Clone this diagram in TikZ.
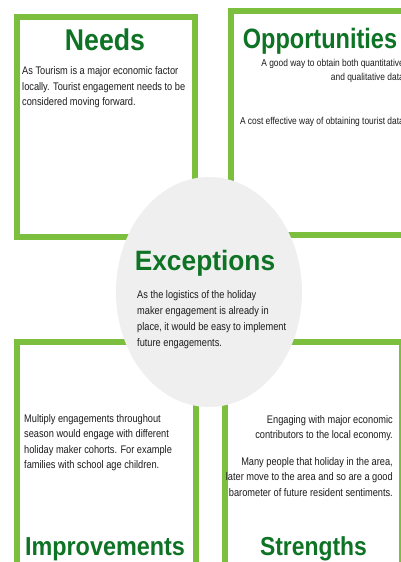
\documentclass[tikz,border=0pt]{standalone}
\usepackage{fontspec}
\usepackage{graphicx}
\setmainfont{Liberation Sans}
\newfontfamily\bodyf[FakeStretch=0.84]{Liberation Sans}
\definecolor{framegreen}{HTML}{7CBF3F}
\definecolor{titlegreen}{HTML}{0E7325}
\definecolor{circlegray}{HTML}{EFEFEF}
\definecolor{bodytext}{HTML}{1C1C1C}
\newcommand\blockL[2]{\vtop{\baselineskip=#1\halign{##\hfil\cr #2\crcr}}}
\newcommand\blockR[2]{\vtop{\baselineskip=#1\halign{\hfil##\cr #2\crcr}}}
\tikzset{
  frame/.style={draw=framegreen, line width=6pt},
  ttl/.style={inner sep=0pt, anchor=base, text=titlegreen},
  bodyL/.style={inner sep=0pt, anchor=base west, text=bodytext, font=\bodyf\fontsize{11}{13}\selectfont},
  bodyR/.style={inner sep=0pt, anchor=base east, text=bodytext, font=\bodyf\fontsize{11}{13}\selectfont},
}
\begin{document}
\begin{tikzpicture}[x=1pt,y=-1pt]
\useasboundingbox (0,0) rectangle (401,562);
\fill[white] (0,0) rectangle (401,562);
\begin{scope}
\clip (0,0) rectangle (401,562);
\draw[frame] (17,16.5) rectangle (194.5,237);
\draw[frame] (231,10.5) rectangle (407,234.5);
\draw[frame] (17,341.5) rectangle (195.5,600);
\draw[frame] (224.5,341.5) rectangle (401.5,600);
\fill[circlegray] (209,292) ellipse [x radius=93, y radius=115];
\end{scope}
% titles
\node[ttl, font=\fontsize{30}{30}\selectfont\bfseries] (needs) at (105,50) {\scalebox{0.89}[1]{Needs}};
\node[ttl, font=\fontsize{28}{28}\selectfont\bfseries] (opp) at (320,48) {\scalebox{0.84}[1]{Opportunities}};
\node[ttl, font=\fontsize{28}{28}\selectfont\bfseries] (exc) at (205,270) {\scalebox{0.94}[1]{Exceptions}};
\node[ttl, font=\fontsize{26}{26}\selectfont\bfseries] (imp) at (105,555) {\scalebox{0.90}[1]{Improvements}};
\node[ttl, font=\fontsize{26}{26}\selectfont\bfseries] (str) at (313.5,555) {\scalebox{0.88}[1]{Strengths}};
% body texts
\node[bodyL] (needstxt) at (22,74.7) {\blockL{15.5pt}{As Tourism is a major economic factor\cr locally. Tourist engagement needs to be\cr considered moving forward.}};
\begin{scope}
\clip (0,0) rectangle (401,562);
\node[bodyR, font=\bodyf\fontsize{10}{12}\selectfont] (opptxt) at (404,66) {\blockR{14pt}{A good way to obtain both quantitative\cr and qualitative data\cr\noalign{\vskip 30pt} A cost effective way of obtaining tourist data}};
\end{scope}
\node[bodyL] (exctxt) at (137,298) {\blockL{16pt}{As the logistics of the holiday\cr maker engagement is already in\cr place, it would be easy to implement\cr future engagements.}};
\node[bodyL] (imptxt) at (24,422) {\blockL{15.5pt}{Multiply engagements throughout\cr season would engage with different\cr holiday maker cohorts. For example\cr families with school age children.}};
\node[bodyR] (strtxt) at (393,423) {\blockR{15.5pt}{Engaging with major economic\cr contributors to the local economy.\cr\noalign{\vskip 11pt} Many people that holiday in the area,\cr later move to the area and so are a good\cr barometer of future resident sentiments.}};
\end{tikzpicture}
\end{document}
